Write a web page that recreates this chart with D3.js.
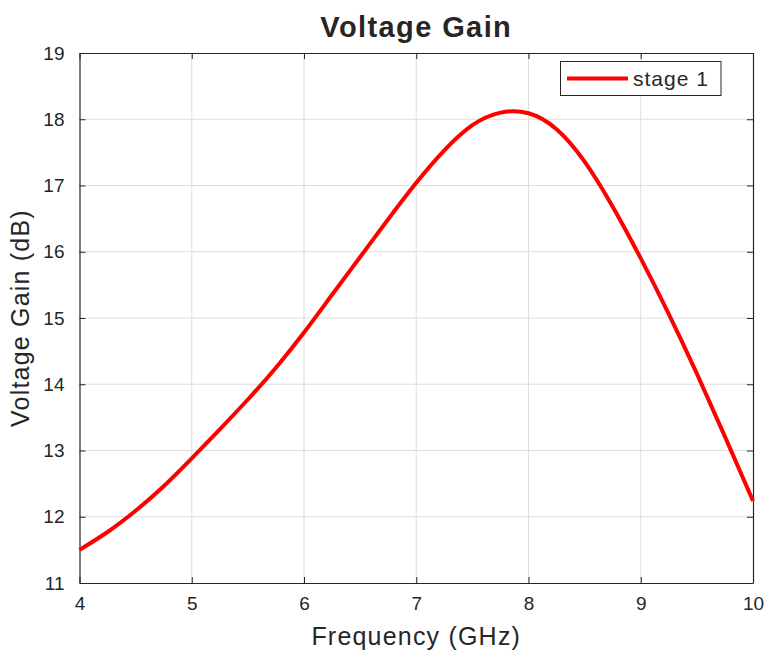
<!DOCTYPE html>
<html>
<head>
<meta charset="utf-8">
<script src="https://cdn.jsdelivr.net/npm/d3@7"></script>
<style>
  body { margin: 0; background: #fff; }
  svg { display: block; }
  text { font-family: "Liberation Sans", Arial, Helvetica, sans-serif; fill: #262626; }
</style>
</head>
<body>
<svg id="chart"></svg>
<script>
// values
const freq = [4.0, 4.25, 4.5, 4.75, 5.0, 5.25, 5.5, 5.75, 6.0, 6.25, 6.5, 6.75, 7.0,
  7.25, 7.5, 7.75, 8.0, 8.25, 8.5, 8.75, 9.0, 9.25, 9.5, 9.75, 10.0];
const gain = [11.50, 11.77, 12.09, 12.46, 12.88, 13.32, 13.77, 14.25, 14.78, 15.35, 15.92, 16.49, 17.04,
  17.53, 17.91, 18.10, 18.09, 17.85, 17.36, 16.68, 15.90, 15.06, 14.16, 13.21, 12.24];
const xTicks = [4, 5, 6, 7, 8, 9, 10];
const yTicks = [11, 12, 13, 14, 15, 16, 17, 18, 19];
const seriesName = 'stage 1';

const width = 768, height = 654;
const margin = { top: 53, right: 15, bottom: 71, left: 79.5 };
const axisColor = '#262626';

const svg = d3.select('#chart').attr('width', width).attr('height', height);

const x = d3.scaleLinear().domain([4, 10]).range([margin.left, width - margin.right]);
const y = d3.scaleLinear().domain([11, 19]).range([height - margin.bottom, margin.top]);

// grid
svg.append('g')
  .selectAll('line')
  .data(xTicks.slice(1, -1))
  .join('line')
  .attr('x1', d => x(d)).attr('x2', d => x(d))
  .attr('y1', y(11)).attr('y2', y(19))
  .attr('stroke', '#dedede').attr('stroke-width', 1);
svg.append('g')
  .selectAll('line')
  .data(yTicks.slice(1, -1))
  .join('line')
  .attr('y1', d => y(d)).attr('y2', d => y(d))
  .attr('x1', x(4)).attr('x2', x(10))
  .attr('stroke', '#dedede').attr('stroke-width', 1);

// axes with inward ticks, box on
const fmt = d3.format('d');
svg.append('g')
  .attr('transform', 'translate(0,' + y(11) + ')')
  .call(d3.axisBottom(x).tickValues(xTicks).tickFormat(fmt).tickSizeInner(-6).tickSizeOuter(0).tickPadding(14));
svg.append('g')
  .attr('transform', 'translate(' + x(4) + ',0)')
  .call(d3.axisLeft(y).tickValues(yTicks).tickFormat(fmt).tickSizeInner(-6).tickSizeOuter(0).tickPadding(15));
svg.append('g')
  .attr('transform', 'translate(0,' + y(19) + ')')
  .call(d3.axisTop(x).tickValues(xTicks).tickSizeInner(-6).tickSizeOuter(0).tickFormat(''));
svg.append('g')
  .attr('transform', 'translate(' + x(10) + ',0)')
  .call(d3.axisRight(y).tickValues(yTicks).tickSizeInner(-6).tickSizeOuter(0).tickFormat(''));

svg.selectAll('.domain').attr('stroke', axisColor).attr('stroke-width', 1.2);
svg.selectAll('.tick line').attr('stroke', axisColor).attr('stroke-width', 1);
svg.selectAll('.tick text')
  .style('font-family', '"Liberation Sans", Arial, sans-serif')
  .style('font-size', '19px')
  .attr('fill', axisColor);

// curve
const line = d3.line()
  .x((d, i) => x(freq[i]))
  .y(d => y(d))
  .curve(d3.curveNatural);

svg.append('path')
  .datum(gain)
  .attr('d', line)
  .attr('fill', 'none')
  .attr('stroke', '#ff0000')
  .attr('stroke-width', 4)
  .attr('stroke-linejoin', 'round');

// title & labels
svg.append('text')
  .attr('x', (x(4) + x(10)) / 2)
  .attr('y', 37)
  .attr('text-anchor', 'middle')
  .style('font-size', '29px')
  .style('font-weight', 'bold')
  .style('letter-spacing', '1.4px')
  .attr('fill', '#000')
  .text('Voltage Gain');

svg.append('text')
  .attr('x', (x(4) + x(10)) / 2)
  .attr('y', 645)
  .attr('text-anchor', 'middle')
  .style('font-size', '25px')
  .style('letter-spacing', '1.2px')
  .text('Frequency (GHz)');

svg.append('text')
  .attr('transform', 'translate(29,' + (y(11) + y(19)) / 2 + ') rotate(-90)')
  .attr('text-anchor', 'middle')
  .style('font-size', '25px')
  .style('letter-spacing', '1.2px')
  .text('Voltage Gain (dB)');

// legend
const legend = svg.append('g');
legend.append('rect')
  .attr('x', 560.5).attr('y', 61.5)
  .attr('width', 160.5).attr('height', 34)
  .attr('fill', '#fff')
  .attr('stroke', axisColor).attr('stroke-width', 1);
legend.append('line')
  .attr('x1', 567).attr('x2', 628)
  .attr('y1', 78.5).attr('y2', 78.5)
  .attr('stroke', '#ff0000').attr('stroke-width', 4);
legend.append('text')
  .attr('x', 633).attr('y', 86)
  .style('font-size', '21px')
  .style('letter-spacing', '1px')
  .attr('fill', '#000')
  .text(seriesName);
</script>
</body>
</html>
